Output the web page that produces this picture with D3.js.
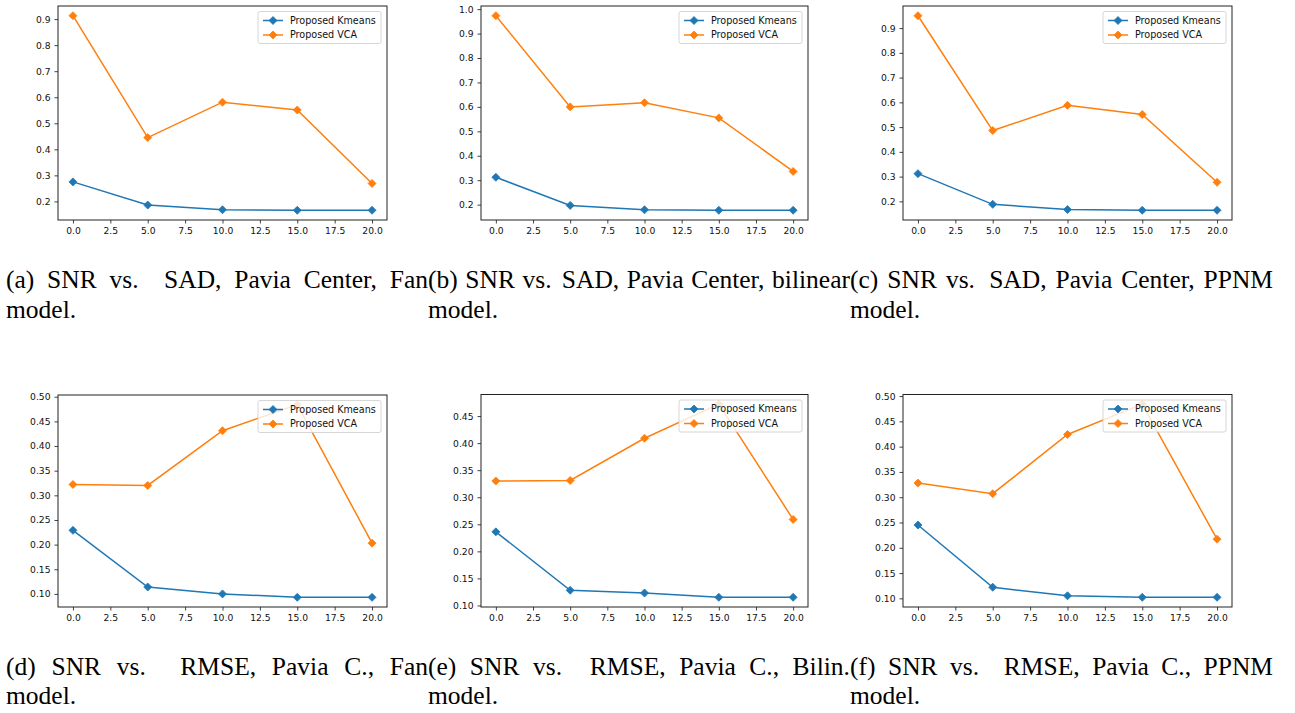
<!DOCTYPE html>
<html>
<head>
<meta charset="utf-8">
<script src="https://cdn.jsdelivr.net/npm/d3@7/dist/d3.min.js"></script>
<style>
  body { margin: 0; background: #fff; }
</style>
</head>
<body>
<div id="chart"></div>
<script>
(function () {

  // SNR values along the x axis, same for all six plots
  const snr = [0, 5, 10, 15, 20]
  const xTicks = [0, 2.5, 5, 7.5, 10, 12.5, 15, 17.5, 20]
  const seriesNames = ['Proposed Kmeans', 'Proposed VCA']

  // SAD, Pavia Center (top row)
  const kmeansFan = [0.275, 0.186, 0.168, 0.166, 0.166]
  const vcaFan = [0.913, 0.445, 0.581, 0.551, 0.269]
  const kmeansBilinear = [0.312, 0.197, 0.179, 0.177, 0.177]
  const vcaBilinear = [0.973, 0.600, 0.617, 0.555, 0.336]
  const kmeansPPNM = [0.312, 0.188, 0.167, 0.164, 0.164]
  const vcaPPNM = [0.950, 0.486, 0.588, 0.551, 0.277]

  // RMSE, Pavia C. (bottom row)
  const kmeansFanRmse = [0.229, 0.114, 0.100, 0.093, 0.093]
  const vcaFanRmse = [0.322, 0.320, 0.431, 0.484, 0.203]
  const kmeansBilinRmse = [0.236, 0.128, 0.123, 0.115, 0.115]
  const vcaBilinRmse = [0.330, 0.331, 0.409, 0.472, 0.259]
  const kmeansPPNMRmse = [0.245, 0.122, 0.105, 0.102, 0.102]
  const vcaPPNMRmse = [0.328, 0.307, 0.424, 0.484, 0.217]

  // y tick labels for each plot
  const yTicksA = [0.2, 0.3, 0.4, 0.5, 0.6, 0.7, 0.8, 0.9]
  const yTicksB = [0.2, 0.3, 0.4, 0.5, 0.6, 0.7, 0.8, 0.9, 1.0]
  const yTicksC = [0.2, 0.3, 0.4, 0.5, 0.6, 0.7, 0.8, 0.9]
  const yTicksD = [0.10, 0.15, 0.20, 0.25, 0.30, 0.35, 0.40, 0.45, 0.50]
  const yTicksE = [0.10, 0.15, 0.20, 0.25, 0.30, 0.35, 0.40, 0.45]
  const yTicksF = [0.10, 0.15, 0.20, 0.25, 0.30, 0.35, 0.40, 0.45, 0.50]

  const captions = [
    ['(a) SNR vs. SAD, Pavia Center, Fan', 'model.'],
    ['(b) SNR vs. SAD, Pavia Center, bilinear', 'model.'],
    ['(c) SNR vs. SAD, Pavia Center, PPNM', 'model.'],
    ['(d) SNR vs. RMSE, Pavia C., Fan', 'model.'],
    ['(e) SNR vs. RMSE, Pavia C., Bilin.', 'model.'],
    ['(f) SNR vs. RMSE, Pavia C., PPNM', 'model.']
  ]

  const colors = ['#1f77b4', '#ff7f0e']

  // where each axes box sits on the page
  const boxes = [
    { x: 58, y: 6, w: 329, h: 214 },
    { x: 481, y: 6, w: 327, h: 214 },
    { x: 903, y: 6, w: 329, h: 214 },
    { x: 58, y: 395, w: 329, h: 212 },
    { x: 481, y: 394.5, w: 327, h: 212.5 },
    { x: 903, y: 394.5, w: 329, h: 212.5 }
  ]
  const captionCols = [[6, 422], [428, 422], [850, 423]]
  const captionRows = [[288, 318], [675, 704]]

  const panels = [
    { series: [kmeansFan, vcaFan], yTicks: yTicksA, fmt: '.1f' },
    { series: [kmeansBilinear, vcaBilinear], yTicks: yTicksB, fmt: '.1f' },
    { series: [kmeansPPNM, vcaPPNM], yTicks: yTicksC, fmt: '.1f' },
    { series: [kmeansFanRmse, vcaFanRmse], yTicks: yTicksD, fmt: '.2f' },
    { series: [kmeansBilinRmse, vcaBilinRmse], yTicks: yTicksE, fmt: '.2f' },
    { series: [kmeansPPNMRmse, vcaPPNMRmse], yTicks: yTicksF, fmt: '.2f' }
  ]

  const svg = d3.select('#chart').append('svg')
    .attr('width', 1295)
    .attr('height', 713)
    .style('display', 'block')

  svg.append('rect').attr('width', 1295).attr('height', 713).attr('fill', '#fff')

  // matplotlib 'D' marker = square turned 45 degrees
  const diamond = 'M0,-4L4,0L0,4L-4,0Z'

  panels.forEach((p, i) => {
    const box = boxes[i]
    const g = svg.append('g')
      .attr('transform', 'translate(' + box.x + ',' + box.y + ')')

    // matplotlib pads the data range by 5% on each side
    const xPad = (d3.max(snr) - d3.min(snr)) * 0.05
    const xPositionScale = d3.scaleLinear()
      .domain([d3.min(snr) - xPad, d3.max(snr) + xPad])
      .range([0, box.w])

    const all = p.series.flat()
    const yPad = (d3.max(all) - d3.min(all)) * 0.05
    const yPositionScale = d3.scaleLinear()
      .domain([d3.min(all) - yPad, d3.max(all) + yPad])
      .range([box.h, 0])

    const xAxis = d3.axisBottom(xPositionScale)
      .tickValues(xTicks)
      .tickFormat(d3.format('.1f'))
      .tickSizeOuter(0)
      .tickSize(3.5)
      .tickPadding(3.5)
    g.append('g')
      .attr('class', 'axis x-axis')
      .attr('transform', 'translate(0,' + box.h + ')')
      .call(xAxis)

    const yAxis = d3.axisLeft(yPositionScale)
      .tickValues(p.yTicks)
      .tickFormat(d3.format(p.fmt))
      .tickSizeOuter(0)
      .tickSize(3.5)
      .tickPadding(4)
    g.append('g')
      .attr('class', 'axis y-axis')
      .call(yAxis)

    g.selectAll('.axis .domain').remove()
    g.selectAll('.axis text')
      .attr('font-family', 'DejaVu Sans')
      .attr('font-size', 9.2)
      .attr('fill', '#111')
    g.selectAll('.axis line').attr('stroke', '#111').attr('stroke-width', 0.8)

    const line = d3.line()
      .x((d, j) => xPositionScale(snr[j]))
      .y(d => yPositionScale(d))

    p.series.forEach((values, s) => {
      g.append('path')
        .datum(values)
        .attr('d', line)
        .attr('fill', 'none')
        .attr('stroke', colors[s])
        .attr('stroke-width', 1.5)

      g.selectAll('.marker-' + s)
        .data(values)
        .join('path')
        .attr('class', 'marker-' + s)
        .attr('d', diamond)
        .attr('transform', (d, j) => 'translate(' + xPositionScale(snr[j]) + ',' + yPositionScale(d) + ')')
        .attr('fill', colors[s])
        .attr('stroke', colors[s])
        .attr('stroke-width', 0.8)
    })

    // frame around the plot
    g.append('rect')
      .attr('width', box.w)
      .attr('height', box.h)
      .attr('fill', 'none')
      .attr('stroke', '#222')
      .attr('stroke-width', 1)

    // legend, upper right
    const legend = g.append('g')
      .attr('transform', 'translate(' + (box.w - 129) + ',5.5)')

    legend.append('rect')
      .attr('width', 123)
      .attr('height', 32)
      .attr('rx', 2)
      .attr('fill', '#fff')
      .attr('fill-opacity', 0.8)
      .attr('stroke', '#cccccc')
      .attr('stroke-width', 0.8)

    const rows = legend.selectAll('.row')
      .data(seriesNames)
      .join('g')
      .attr('class', 'row')
      .attr('transform', (d, k) => 'translate(0,' + (9 + k * 14.5) + ')')

    rows.append('line')
      .attr('x1', 5).attr('x2', 25)
      .attr('stroke', (d, k) => colors[k])
      .attr('stroke-width', 1.5)
    rows.append('path')
      .attr('d', diamond)
      .attr('transform', 'translate(15,0)')
      .attr('fill', (d, k) => colors[k])
      .attr('stroke', (d, k) => colors[k])
      .attr('stroke-width', 0.8)
    rows.append('text')
      .text(d => d)
      .attr('x', 32)
      .attr('dy', '0.35em')
      .attr('font-family', 'DejaVu Sans')
      .attr('font-size', 9.6)
      .attr('fill', '#111')

    // caption underneath, first line justified like LaTeX does
    const col = captionCols[i % 3]
    const row = captionRows[Math.floor(i / 3)]
    justify(captions[i][0], col[0], col[1], row[0])
    svg.append('text')
      .text(captions[i][1])
      .attr('x', col[0])
      .attr('y', row[1])
      .attr('font-family', 'Liberation Serif')
      .attr('font-size', 25.5)
      .attr('fill', '#000')
  })

  function justify (str, x0, width, y) {
    const words = str.split(' ')
    const widths = words.map(w => {
      const t = svg.append('text')
        .text(w)
        .attr('font-family', 'Liberation Serif')
        .attr('font-size', 25.5)
      const len = t.node().getComputedTextLength()
      t.remove()
      return len
    })
    const space = 25.5 * 0.25
    // the gap after "vs." stretches more (sentence spacing)
    const weights = words.slice(0, -1).map(w => (w === 'vs.' ? 3 : 1))
    const natural = d3.sum(widths) + space * weights.length
    const extra = width - natural
    const wsum = d3.sum(weights)
    let x = x0
    words.forEach((w, k) => {
      svg.append('text')
        .text(w)
        .attr('x', x)
        .attr('y', y)
        .attr('font-family', 'Liberation Serif')
        .attr('font-size', 25.5)
        .attr('fill', '#000')
      if (k < weights.length) {
        const gap = extra > 0 ? space + extra * weights[k] / wsum : space + extra / weights.length
        x += widths[k] + gap
      }
    })
  }

})();
</script>
</body>
</html>
